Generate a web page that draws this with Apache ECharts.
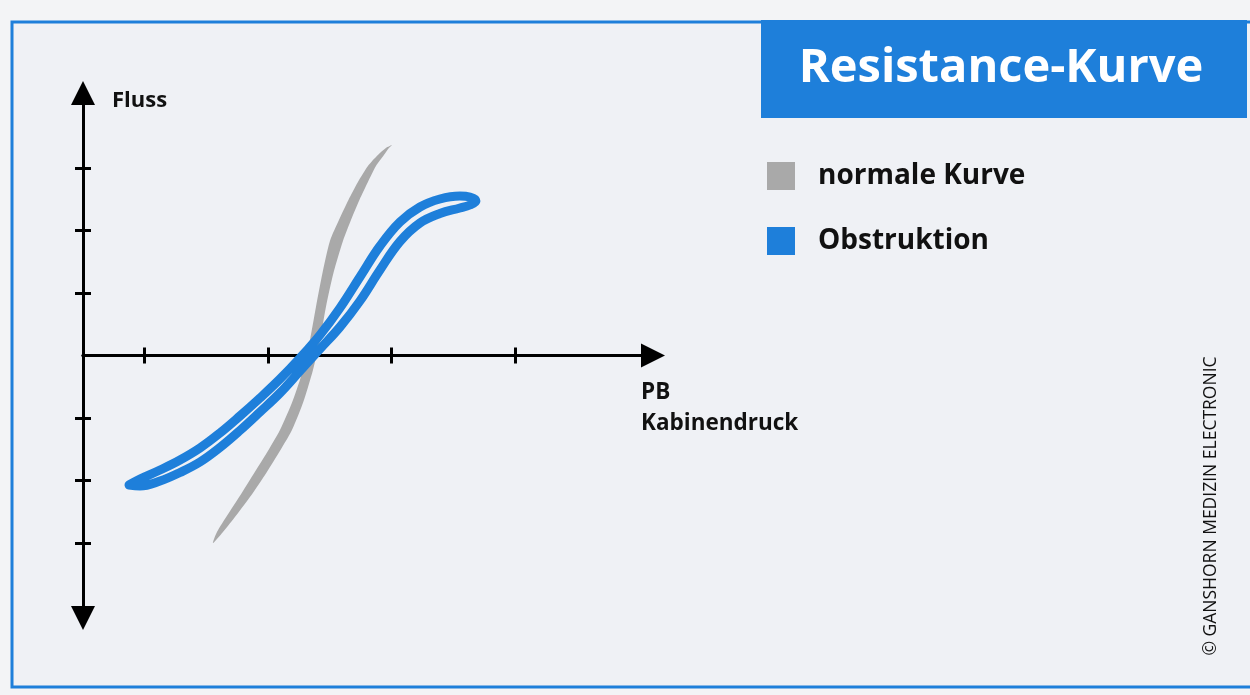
<!DOCTYPE html>
<html>
<head>
<meta charset="utf-8">
<script src="https://cdn.jsdelivr.net/npm/echarts@6/dist/echarts.min.js"></script>
<style>
  html, body { margin: 0; padding: 0; background: #f3f4f6; }
  #chart { width: 1250px; height: 695px; }
</style>
</head>
<body>
<div id="chart"></div>
<script>
// normale Kurve: outline of the grey loop (left edge going up, then right edge coming down)
var normalX = [2.107, 2.172, 2.342, 2.553, 2.755, 2.958, 3.193, 3.404, 3.566, 3.679,
    3.776, 3.882, 4.003, 4.149, 4.303, 4.457, 4.619, 4.781, 4.911, 5.008,
    4.959, 4.878, 4.749, 4.619, 4.481, 4.344, 4.214, 4.060, 3.938, 3.841,
    3.728, 3.582, 3.387, 3.152, 2.950, 2.731, 2.488, 2.269];
var normalY = [-3.000, -2.824, -2.552, -2.232, -1.912, -1.592, -1.192, -0.712, -0.232, 0.248,
    0.776, 1.320, 1.832, 2.168, 2.488, 2.776, 3.032, 3.208, 3.320, 3.368,
    3.320, 3.208, 3.032, 2.776, 2.488, 2.168, 1.832, 1.320, 0.776, 0.248,
    -0.232, -0.712, -1.192, -1.592, -1.912, -2.232, -2.552, -2.824];

// Obstruktion: blue loop (upper branch to the right, lower branch back to the left tip)
var obstrX = [0.746, 0.924, 1.248, 1.572, 1.896, 2.220, 2.544, 2.869, 3.193, 3.517,
    3.841, 4.165, 4.489, 4.814, 5.138, 5.462, 5.786, 6.110, 6.272, 6.370,
    6.272, 6.110, 5.786, 5.462, 5.138, 4.814, 4.489, 4.165, 3.841, 3.517,
    3.193, 2.869, 2.544, 2.220, 1.896, 1.572, 1.248, 0.924, 0.746];
var obstrY = [-2.072, -1.976, -1.832, -1.672, -1.480, -1.240, -0.968, -0.680, -0.376, -0.040,
    0.328, 0.760, 1.256, 1.752, 2.136, 2.376, 2.504, 2.552, 2.536, 2.472,
    2.408, 2.360, 2.272, 2.120, 1.824, 1.368, 0.872, 0.456, 0.104, -0.248,
    -0.600, -0.904, -1.200, -1.472, -1.704, -1.872, -2.008, -2.088, -2.072];

var xTicks = [1, 3, 5, 7];
var yTicks = [-3, -2, -1, 1, 2, 3];
var seriesNames = ['normale Kurve', 'Obstruktion'];

var BLUE = '#1e7fda';
var GREY = '#a9a9a9';
var FONT = '"Open Sans", "Noto Sans", sans-serif';

function pairs(xs, ys) {
    var d = [];
    for (var i = 0; i < xs.length; i++) {
        d.push([xs[i], ys[i]]);
    }
    return d;
}

// each axis is drawn twice (opposite positions, both on zero) so the ticks cross the line
function tickAxis(pos, ticks, arrows) {
    var a = {
        type: 'value',
        position: pos,
        axisLine: {
            onZero: true,
            onZeroAxisIndex: 0,
            lineStyle: {color: '#000', width: 3}
        },
        axisTick: {show: true, length: 8, customValues: ticks, lineStyle: {color: '#000', width: 3}},
        axisLabel: {show: false},
        splitLine: {show: false}
    };
    if (arrows) {
        a.axisLine.symbol = arrows;
        a.axisLine.symbolSize = [24, 24];
    }
    return a;
}

var xAxes = [tickAxis('bottom', xTicks, ['none', 'triangle']), tickAxis('top', xTicks, null)];
var yAxes = [tickAxis('left', yTicks, ['triangle', 'triangle']), tickAxis('right', yTicks, null)];
xAxes.forEach(function (a) { a.min = 0; a.max = 9.24; });
yAxes.forEach(function (a) { a.min = -4.2; a.max = 4.2; });

xAxes[0].name = 'PB\nKabinendruck';
xAxes[0].nameLocation = 'end';
xAxes[0].nameGap = -12;
xAxes[0].nameTextStyle = {align: 'left', verticalAlign: 'top', lineHeight: 31, padding: [22, 0, 0, 0],
    fontFamily: FONT, fontWeight: 'bold', fontSize: 22.5, color: '#111'};

yAxes[0].name = 'Fluss';
yAxes[0].nameLocation = 'end';
yAxes[0].nameGap = -8;
yAxes[0].nameTextStyle = {align: 'left', verticalAlign: 'middle', padding: [0, 0, 0, 29],
    fontFamily: FONT, fontWeight: 'bold', fontSize: 22, color: '#111'};

var chart = echarts.init(document.getElementById('chart'));

var option = {
    backgroundColor: '#f3f4f6',
    animation: false,
    grid: {left: 83, top: 93, width: 570, height: 525, containLabel: false},
    xAxis: xAxes,
    yAxis: yAxes,
    legend: {
        orient: 'vertical',
        left: 762,
        top: 157,
        itemWidth: 28,
        itemHeight: 28,
        itemGap: 37,
        selectedMode: false,
        textStyle: {fontFamily: FONT, fontWeight: 'bold', fontSize: 28, color: '#111', padding: [0, 0, 0, 18]},
        data: [
            {name: seriesNames[0], icon: 'rect', itemStyle: {color: GREY}},
            {name: seriesNames[1], icon: 'rect', itemStyle: {color: BLUE}}
        ]
    },
    graphic: [
        {type: 'rect', z: -10, silent: true,
            shape: {x: 12, y: 22, width: 1250, height: 665},
            style: {fill: '#eff1f5', stroke: BLUE, lineWidth: 3}},
        {type: 'rect', z: -5, silent: true,
            shape: {x: 761, y: 20, width: 486, height: 98},
            style: {fill: BLUE}},
        {type: 'text', silent: true, x: 1001, y: 69,
            style: {text: 'Resistance-Kurve', fill: '#fff', font: 'bold 47px ' + FONT,
                textAlign: 'center', textVerticalAlign: 'middle'}},
        {type: 'text', silent: true, x: 1211, y: 506, rotation: Math.PI / 2,
            style: {text: '\u00a9 GANSHORN MEDIZIN ELECTRONIC', fill: '#111', font: '17.5px ' + FONT,
                textAlign: 'center', textVerticalAlign: 'middle'}}
    ],
    series: [
        {
            name: seriesNames[0],
            type: 'custom',
            z: 1,
            itemStyle: {color: GREY},
            data: pairs(normalX, normalY),
            renderItem: function (params, api) {
                if (params.dataIndex !== 0) {
                    return null;
                }
                var pts = [];
                for (var i = 0; i < normalX.length; i++) {
                    pts.push(api.coord([normalX[i], normalY[i]]));
                }
                return {
                    type: 'polygon',
                    shape: {points: pts, smooth: 0.25},
                    style: {fill: GREY}
                };
            }
        },
        {
            name: seriesNames[1],
            type: 'line',
            z: 3,
            smooth: 0.4,
            showSymbol: false,
            symbol: 'none',
            color: BLUE,
            lineStyle: {color: BLUE, width: 9, cap: 'round', join: 'round'},
            data: pairs(obstrX, obstrY)
        }
    ]
};

chart.setOption(option);
</script>
</body>
</html>
